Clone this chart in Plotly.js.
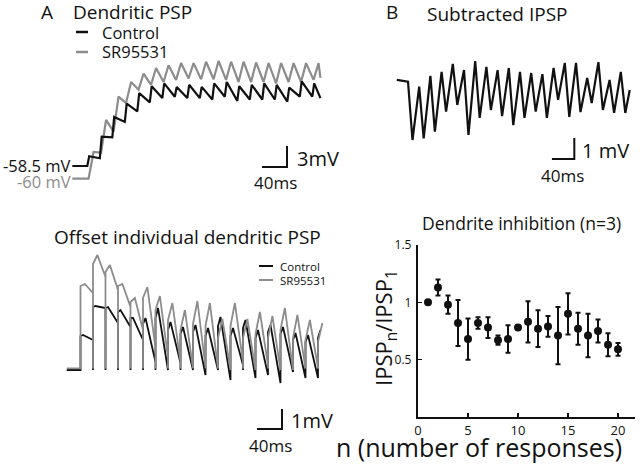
<!DOCTYPE html>
<html>
<head>
<meta charset="utf-8">
<script src="https://cdn.plot.ly/plotly-3.0.1.min.js"></script>
<style>html,body{margin:0;padding:0;background:#fff;}#chart{width:640px;height:464px;}</style>
</head>
<body>
<div id="chart"></div>
<script>
// ---------- DATA ----------
const stimPeriodMs = 20;

// Panel A (top): summed dendritic PSP, mV, one value per stimulus
const ctrlBaseA = -58.5;
const ctrlPeakA = [-57.1, -54.3, -51.5, -49.6, -48.1, -47.1, -46.7, -47.2, -46.9, -47.2, -46.7, -46.5, -47.1, -46.9, -46.7, -46.9, -47.3, -46.4, -46.7];
const ctrlTroughA = [-57.4, -54.4, -52.2, -50.7, -49.4, -48.8, -48.6, -48.8, -48.8, -49.0, -48.6, -49.2, -49.0, -49.0, -49.0, -49.3, -48.6, -48.6, -48.8];
const srBaseA = -60.3;
const srPeakA = [-56.5, -51.9, -48.6, -46.5, -45.3, -44.5, -44.1, -43.8, -43.8, -43.6, -43.5, -43.6, -43.6, -43.7, -43.8, -43.8, -43.8, -43.8, -43.8];
const srTroughA = [-56.6, -53.6, -49.5, -47.6, -46.9, -46.5, -46.2, -46.0, -46.1, -46.1, -46.2, -46.5, -46.5, -46.5, -46.7, -46.5, -46.5, -46.2, -45.9];

// Panel A (bottom): offset individual PSPs, mV relative to baseline
const ctrlStartB = [1.7, 3.15, 3.1, 2.9, 2.6, 2.3, 2.6, 2.0, 1.8, 1.9, 1.7, 2.2, 1.7, 2.1, 1.6, 1.9, 1.8, 1.5, 1.4, 1.6];
const ctrlPeakB = [1.75, 3.2, 3.15, 3.0, 2.6, 2.6, 3.1, 2.4, 2.15, 2.25, 2.1, 2.65, 2.1, 2.5, 2.0, 2.25, 2.15, 1.85, 1.75, 2.0];
const ctrlEndB = [1.5, 3.1, 2.35, 2.15, 1.5, 0.4, 0.15, 0.35, 0.0, -0.25, 0.0, -0.5, 0.25, -0.4, -0.25, -0.65, -0.1, -0.4, -0.4];
const srStartB = [4.2, 5.3, 4.9, 4.2, 3.4, 3.6, 3.0, 2.5, 2.0, 2.3, 2.2, 1.6, 2.2, 1.6, 1.8, 1.6, 2.0, 1.6, 1.5, 1.4];
const srPeakB = [4.3, 5.75, 5.25, 4.3, 3.6, 4.15, 3.7, 3.35, 3.0, 3.45, 3.35, 2.55, 3.35, 2.55, 2.9, 2.7, 3.1, 2.75, 2.5, 2.35];
const srEndB = [3.85, 4.65, 4.0, 3.15, 2.0, 1.1, 0.6, 0.4, 0.25, 0.15, 0.25, 0.0, 0.4, 0.0, 0.25, 0.0, 0.0, 0.1, 0.1];

// Panel B (top): subtracted IPSP, mV
const ipspPre = 0.05;
const ipspTop = [-0.03, -0.27, 0.24, 0.44, 0.81, 0.52, 0.95, 0.67, 0.52, 0.62, 0.43, 0.38, 0.33, 0.62, 0.86, 0.86, 0.14, 0.9, 0.05, 0.43];
const ipspBottom = [-2.81, -2.73, -2.41, -1.46, -1.14, -2.57, -1.76, -1.38, -1.67, -2.1, -1.76, -1.46, -1.76, -0.9, -1.71, -1.48, -1.05, -1.38, -1.52, -1.52];
const ipspEnd = -0.43;

// Panel B (bottom): IPSPn / IPSP1
const nResp = [1, 2, 3, 4, 5, 6, 7, 8, 9, 10, 11, 12, 13, 14, 15, 16, 17, 18, 19, 20];
const ipspRatio = [1.0, 1.13, 0.98, 0.82, 0.68, 0.82, 0.78, 0.67, 0.68, 0.78, 0.83, 0.77, 0.79, 0.71, 0.90, 0.77, 0.71, 0.75, 0.63, 0.59];
const ipspRatioErr = [0, 0.07, 0.08, 0.2, 0.18, 0.05, 0.09, 0.04, 0.12, 0.02, 0.18, 0.16, 0.09, 0.25, 0.18, 0.14, 0.19, 0.1, 0.1, 0.055];

// scale bars
const scaleMsA = 40, scaleMvA = 3;
const scaleMsB = 40, scaleMvB = 1;
const scaleMsC = 40, scaleMvC = 1;

// ---------- BUILDERS ----------
function buildSummed(base, peaks, troughs, delayMs, peakMs, tStart, tEnd) {
  const x = [tStart, delayMs], y = [base, base];
  peaks.forEach((p, k) => {
    const t0 = k * stimPeriodMs;
    x.push(t0 + peakMs); y.push(p);
    x.push(Math.min((k + 1) * stimPeriodMs + delayMs, tEnd)); y.push(troughs[k]);
  });
  return {x, y};
}
function buildOffset(base, starts, peaks, ends, peakMs, tStart) {
  const x = [tStart], y = [base];
  peaks.forEach((p, k) => {
    const t0 = k * stimPeriodMs;
    x.push(t0, t0, t0 + peakMs); y.push(base, starts[k], p);
    if (ends[k] !== undefined) { x.push((k + 1) * stimPeriodMs); y.push(ends[k]); }
  });
  return {x, y};
}
function buildIpsp(pre, tops, bottoms, troughMs, tStart, tEnd, endV) {
  const x = [tStart], y = [pre];
  tops.forEach((tp, k) => {
    const t0 = k * stimPeriodMs;
    x.push(t0, t0 + troughMs); y.push(tp, bottoms[k]);
  });
  x.push(tEnd); y.push(endV);
  return {x, y};
}

const BLACK = '#111111', GRAY = '#8c8c8c';
const FONT = 'Open Sans, Noto Sans, sans-serif';

const ctrlA = buildSummed(ctrlBaseA, ctrlPeakA, ctrlTroughA, 0, 3, -24, 373);
const srA = buildSummed(srBaseA, srPeakA, srTroughA, 2, 10, -24, 373);
const ctrlB = buildOffset(0, ctrlStartB, ctrlPeakB, ctrlEndB, 4, -22);
const srB = buildOffset(0.08, srStartB, srPeakB, srEndB, 7, -22);
const ipsp = buildIpsp(ipspPre, ipspTop, ipspBottom, 8, -20, 396, ipspEnd);

function line(d, xa, ya, color, w) {
  return {x: d.x, y: d.y, xaxis: xa, yaxis: ya, type: 'scatter', mode: 'lines',
          line: {color: color, width: w}, hoverinfo: 'skip', showlegend: false};
}
function scaleBar(x0, y0, ms, mv, xa, ya) {
  return {x: [x0, x0 + ms, x0 + ms], y: [y0, y0, y0 + mv], xaxis: xa, yaxis: ya,
          type: 'scatter', mode: 'lines', line: {color: BLACK, width: 2}, hoverinfo: 'skip', showlegend: false};
}

const data = [
  line(srA, 'x', 'y', GRAY, 2.2),
  line(ctrlA, 'x', 'y', BLACK, 2.2),
  scaleBar(279.5, -58.64, scaleMsA, scaleMvA, 'x', 'y'),
  line(ctrlB, 'x2', 'y2', BLACK, 1.8),
  line(srB, 'x2', 'y2', GRAY, 1.8),
  scaleBar(282.4, -2.95, scaleMsB, scaleMvB, 'x2', 'y2'),
  line(ipsp, 'x3', 'y3', BLACK, 2.2),
  scaleBar(257, -3.71, scaleMsC, scaleMvC, 'x3', 'y3'),
  {x: nResp, y: ipspRatio, xaxis: 'x4', yaxis: 'y4', type: 'scatter', mode: 'markers',
   marker: {color: BLACK, size: 8},
   error_y: {type: 'data', array: ipspRatioErr, visible: true, color: BLACK, thickness: 2, width: 2.5},
   hoverinfo: 'skip', showlegend: false}
];

const W = 640, H = 464;
const px = v => v / W, py = v => (H - v) / H;
const hidden = (dom, rng) => ({domain: dom, range: rng, visible: false, fixedrange: true});

function ann(text, x, y, size, opt) {
  return Object.assign({text: text, x: px(x), y: py(y), xref: 'paper', yref: 'paper', showarrow: false,
    xanchor: 'center', yanchor: 'middle', borderpad: 0, font: {family: FONT, size: size, color: BLACK}}, opt || {});
}
function seg(x0, x1, y, color, w) {
  return {type: 'line', xref: 'paper', yref: 'paper', x0: px(x0), x1: px(x1), y0: py(y), y1: py(y),
          line: {color: color, width: w}};
}

const layout = {
  width: W, height: H, margin: {l: 0, r: 0, t: 0, b: 0},
  paper_bgcolor: '#ffffff', plot_bgcolor: 'rgba(0,0,0,0)',
  font: {family: FONT, color: BLACK}, showlegend: false,
  xaxis: hidden([px(60), px(330)], [-43.7, 388.3]),
  yaxis: hidden([py(195), py(20)], [-62.643, -37.643]),
  xaxis2: hidden([px(55), px(330)], [-40.8, 399.2]),
  yaxis2: hidden([py(440), py(250)], [-3.5, 6.0]),
  xaxis3: hidden([px(385), px(640)], [-41.07, 414.29]),
  yaxis3: hidden([py(190), py(40)], [-5.19, 1.952]),
  xaxis4: {domain: [px(418), px(635)], range: [0, 21.7], anchor: 'y4', showline: true, linecolor: BLACK, linewidth: 2.2,
           showgrid: false, zeroline: false, ticks: 'inside', ticklen: 4, tickwidth: 1.5, tickcolor: BLACK,
           tickvals: [0, 5, 10, 15, 20], ticktext: ['0', '5', '10', '15', '20'], tickfont: {family: FONT, size: 13, color: BLACK},
           ticklabelstandoff: 0, fixedrange: true},
  yaxis4: {domain: [py(417), py(245)], range: [0, 1.5], anchor: 'x4', showline: true, linecolor: BLACK, linewidth: 2.2,
           showgrid: false, zeroline: false, ticks: 'inside', ticklen: 4, tickwidth: 1.5, tickcolor: BLACK,
           tickvals: [0.5, 1, 1.5], ticktext: ['0.5', '1', '1.5'], tickfont: {family: FONT, size: 12, color: BLACK},
           ticklabelstandoff: 2, fixedrange: true},
  shapes: [
    seg(76, 88, 32, BLACK, 2.5), seg(76, 88, 52, GRAY, 2.5),
    seg(259, 273, 266, BLACK, 2), seg(259, 273, 280, GRAY, 2)
  ],
  annotations: [
    ann('A', 47, 12, 19),
    ann('Dendritic PSP', 72, 12, 19, {xanchor: 'left'}),
    ann('Control', 101, 32, 16.5, {xanchor: 'left'}),
    ann('SR95531', 101, 52, 16.5, {xanchor: 'left'}),
    ann('-58.5 mV', 72, 166, 16.5, {xanchor: 'right'}),
    ann('-60 mV', 72, 181, 16.5, {xanchor: 'right', font: {family: FONT, size: 16.5, color: GRAY}}),
    ann('3mV', 296, 158, 20, {xanchor: 'left'}),
    ann('40ms', 275, 182, 17),
    ann('Offset individual dendritic PSP', 187.5, 237, 19),
    ann('Control', 279, 266, 11.5, {xanchor: 'left'}),
    ann('SR95531', 279, 280, 11.5, {xanchor: 'left'}),
    ann('1mV', 290, 420, 20, {xanchor: 'left'}),
    ann('40ms', 270, 445, 17),
    ann('B', 392, 12, 19),
    ann('Subtracted IPSP', 426, 14, 19, {xanchor: 'left'}),
    ann('1 mV', 581, 150, 20, {xanchor: 'left'}),
    ann('40ms', 562, 175, 17),
    ann('Dendrite inhibition (n=3)', 521, 223, 17.5),
    ann('n (number of responses)', 479, 447, 25),
    ann('IPSP<sub>n</sub>/IPSP<sub>1</sub>', 385, 328, 22, {textangle: -90})
  ]
};

Plotly.newPlot('chart', data, layout, {staticPlot: true, displayModeBar: false});
</script>
</body>
</html>
